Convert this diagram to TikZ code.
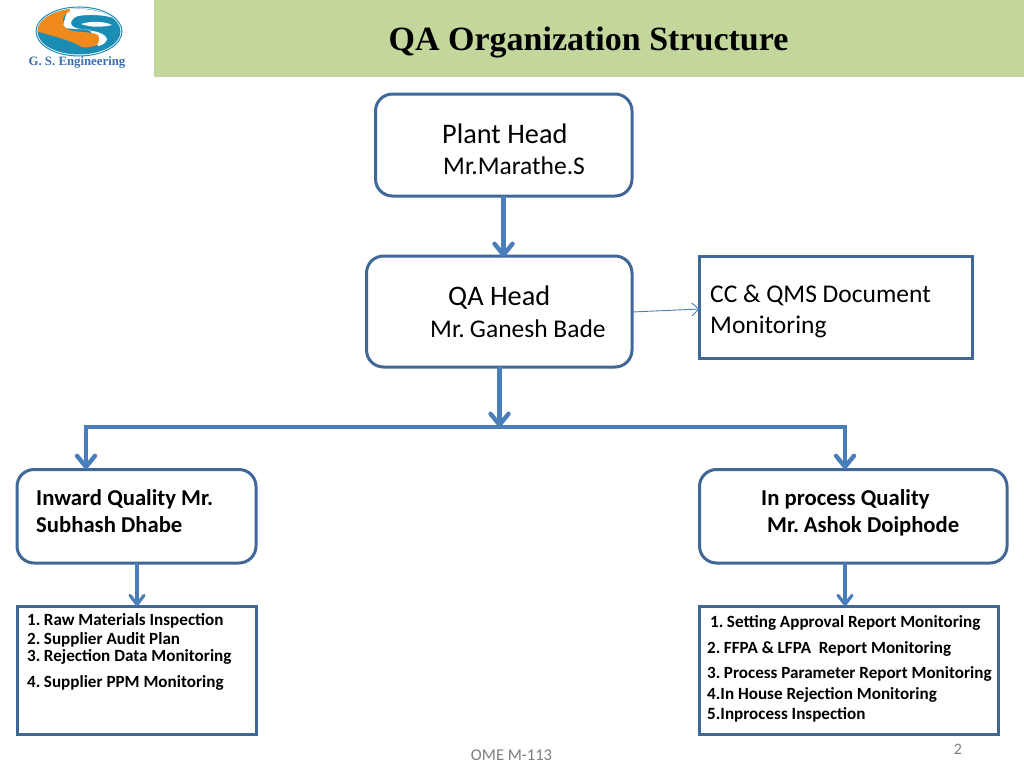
\documentclass[tikz,border=0pt]{standalone}
\usepackage{fontspec}
\setmainfont{Carlito}
\newfontfamily\serifbf{Liberation Serif}
\usetikzlibrary{arrows.meta}
\definecolor{band}{HTML}{C3D69B}
\definecolor{edgeblue}{HTML}{3F6797}
\definecolor{arrowblue}{HTML}{4A7EBB}
\definecolor{tealc}{HTML}{1B8DB4}
\definecolor{orangec}{HTML}{F08A1D}
\definecolor{logotext}{HTML}{3C6FB0}
\definecolor{graytxt}{HTML}{7F7F7F}
\tikzset{
  roundbox/.style={draw=edgeblue,line width=3pt,fill=white,rounded corners=17pt},
  squarebox/.style={draw=edgeblue,line width=3pt,fill=white},
  thick arrow/.style={draw=arrowblue,line width=4.5pt,-{Straight Barb[length=11pt,width=18pt,line width=4.4pt,round]}},
  mid arrow/.style={draw=arrowblue,line width=3.4pt,-{Straight Barb[length=9pt,width=14pt,line width=3.2pt,round]}},
  thin arrow/.style={draw=arrowblue,line width=0.9pt,-{Straight Barb[length=7pt,width=13pt,line width=0.9pt]}},
  txt/.style={anchor=base west,inner sep=0pt,text=black},
  big/.style={txt,font=\fontsize{28.3}{28.3}\selectfont},
  med/.style={txt,font=\fontsize{25.5}{25.5}\selectfont},
  head/.style={txt,font=\fontsize{22.7}{22.7}\selectfont\bfseries},
  small/.style={txt,font=\fontsize{17.1}{17.1}\selectfont\bfseries},
}
\begin{document}
\begin{tikzpicture}[x=1pt,y=-1pt]
\useasboundingbox (0,0) rectangle (1024,768);
\fill[white] (0,0) rectangle (1024,768);
\fill[band] (154,0) rectangle (1024,77);
\node[anchor=base,inner sep=0pt,font=\fontsize{34}{34}\selectfont\serifbf\bfseries] (title) at (588.5,51) {QA Organization Structure};
% logo
\fill[white,draw=tealc,line width=1pt] (79,31.5) ellipse (43pt and 24.5pt);
\begin{scope}
\clip (79,31.5) ellipse (41.5pt and 23pt);
\fill[tealc] (30,0) rectangle (130,60);
\fill[white] (68,9) .. controls (84,8) and (102,10) .. (114,18) .. controls (104,15) and (90,14) .. (78,16) .. controls (70,19) and (68,25) .. (76,28) .. controls (86,31) and (104,30) .. (107,39) .. controls (106,43) and (103,45) .. (98,46) -- (90,30) -- (62,28) -- cycle;
\fill[white] (81,24) .. controls (90,21) and (104,21) .. (112,25) .. controls (104,27) and (92,28) .. (81,24) -- cycle;
\fill[orangec] (35,31) -- (35,5) -- (70,5) -- (70,11) .. controls (62,15) and (60,24) .. (67,29) .. controls (76,33) and (90,31) .. (98,35) .. controls (100,39) and (99,42) .. (97,45) .. controls (92,47) and (86,48) .. (82,47) .. controls (72,41) and (54,36) .. (35,31) -- cycle;
\end{scope}
\node[anchor=base,inner sep=0pt,text=logotext,font=\fontsize{12.8}{12.8}\selectfont\serifbf\bfseries] (logoname) at (77,66) {G. S. Engineering};
% boxes
\draw[roundbox] (375.5,94) rectangle (632,196);
\coordinate (plantS) at (503.5,196);
\coordinate (qaN) at (503.5,257);
\draw[roundbox] (366.5,256) rectangle (632,367);
\coordinate (qaE) at (632,312);
\coordinate (qaS) at (499.5,367);
\draw[squarebox] (699.5,256) rectangle (972.5,358);
\coordinate (ccW) at (699.5,309);
\draw[roundbox] (17,469.5) rectangle (256,563);
\draw[roundbox] (699.5,469.5) rectangle (1007,563);
\draw[squarebox] (17,606) rectangle (256,734);
\draw[squarebox] (699.5,606) rectangle (998.5,734);
\coordinate (barMid) at (499.5,427);
\coordinate (barL) at (83.8,427);
\coordinate (barR) at (847.2,427);
\coordinate (inTop) at (86,425);
\coordinate (prTop) at (845,425);
\coordinate (inN) at (86,469);
\coordinate (prN) at (845,469);
\coordinate (inS) at (137,563);
\coordinate (prS) at (845,563);
\coordinate (lN) at (137,606);
\coordinate (rN) at (845,606);
% connectors
\draw[thick arrow] (plantS) -- (qaN);
\draw[thin arrow] (qaE) -- (ccW);
\draw[draw=arrowblue,line width=3.8pt] (barL) -- (barR);
\draw[thick arrow] (qaS) -- (barMid);
\draw[thick arrow] (inTop) -- (inN);
\draw[thick arrow] (prTop) -- (prN);
\draw[mid arrow] (inS) -- (lN);
\draw[mid arrow] (prS) -- (rN);
% text
\node[big] (t1) at (442,143) {Plant Head};
\node[med] (t2) at (443,174) {Mr.Marathe.S};
\node[big] (t3) at (448,305) {QA Head};
\node[med] (t4) at (430,337) {Mr.\hspace{5.2pt}Ganesh Bade};
\node[med] (t5) at (710,302) {CC \& QMS Document};
\node[med] (t6) at (710,333) {Monitoring};
\node[head] (t7) at (36,505) {Inward Quality Mr.};
\node[head] (t8) at (36,532) {Subhash Dhabe};
\node[head] (t9) at (761,505) {In process Quality};
\node[head] (t10) at (767,532) {Mr.\hspace{4.6pt}Ashok Doiphode};
\node[small] (a1) at (27,625) {1.\hspace{3.5pt}Raw Materials Inspection};
\node[small] (a2) at (27,644) {2.\hspace{3.5pt}Supplier Audit Plan};
\node[small] (a3) at (27,661) {3.\hspace{3.5pt}Rejection Data Monitoring};
\node[small] (a4) at (27,687) {4.\hspace{3.5pt}Supplier PPM Monitoring};
\node[small] (b1) at (710,627) {1.\hspace{3.5pt}Setting Approval Report Monitoring};
\node[small] (b2) at (707,653) {2.\hspace{3.5pt}FFPA \& LFPA\ \ Report Monitoring};
\node[small] (b3) at (707,678) {3.\hspace{3.5pt}Process Parameter Report Monitoring};
\node[small] (b4) at (707,699) {4.In House Rejection Monitoring};
\node[small] (b5) at (707,719) {5.Inprocess Inspection};
\node[anchor=base,inner sep=0pt,text=graytxt,font=\fontsize{16.5}{16.5}\selectfont] (foot) at (511.5,760) {OME M-113};
\node[anchor=base,inner sep=0pt,text=graytxt,font=\fontsize{16}{16}\selectfont] (page) at (958,754) {2};
\end{tikzpicture}
\end{document}
